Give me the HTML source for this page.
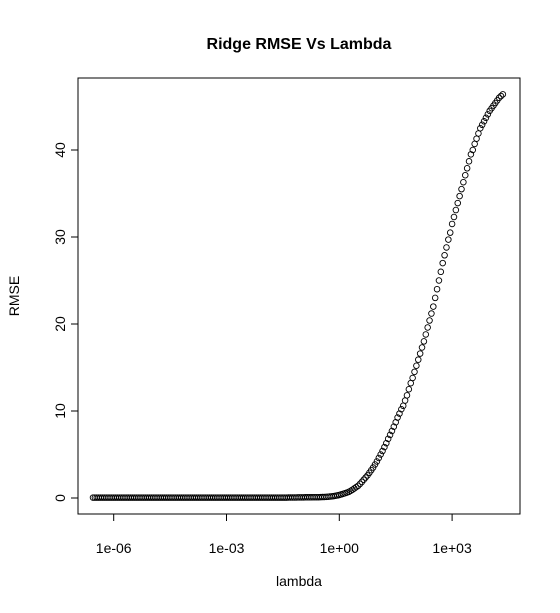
<!DOCTYPE html>
<html><head><meta charset="utf-8"><style>
body{margin:0;background:#fff}
svg{display:block;font-family:"Liberation Sans",Arial,sans-serif}
</style></head><body>
<svg id="chart" width="560" height="613">
<text x="299" y="49" text-anchor="middle" font-size="16" font-weight="bold">Ridge RMSE Vs Lambda</text>
<rect x="78" y="78" width="442" height="436" fill="none" stroke="#000" stroke-width="1"/>
<text x="299" y="586" text-anchor="middle" font-size="14">lambda</text>
<text transform="translate(19,296) rotate(-90)" text-anchor="middle" font-size="14">RMSE</text>
<g id="axes"></g><g id="points"></g>
</svg>
<script>
const logLambdaStart = -6.55;
const logLambdaStep = 0.05;
const rmseValues = [
0.05,0.05,0.05,0.05,0.05,0.05,0.05,0.05,0.05,0.05,0.05,0.05,0.05,0.05,0.05,0.05,0.05,0.05,0.05,0.05,
0.05,0.05,0.05,0.05,0.05,0.05,0.05,0.05,0.05,0.05,0.05,0.05,0.05,0.05,0.05,0.05,0.05,0.05,0.05,0.05,
0.05,0.05,0.05,0.05,0.05,0.05,0.05,0.05,0.05,0.05,0.05,0.05,0.05,0.05,0.05,0.05,0.05,0.05,0.05,0.05,
0.05,0.05,0.05,0.05,0.05,0.05,0.05,0.05,0.05,0.05,0.05,0.05,0.05,0.05,0.05,0.05,0.05,0.05,0.05,0.05,
0.05,0.05,0.05,0.05,0.05,0.05,0.05,0.05,0.05,0.05,0.05,0.05,0.05,0.05,0.05,0.05,0.05,0.05,0.05,0.05,
0.05,0.05,0.05,0.05,0.06,0.06,0.06,0.06,0.06,0.07,0.07,0.07,0.07,0.08,0.08,0.08,0.08,0.09,0.09,0.09,0.09,
0.10,0.11,0.12,0.13,0.15,0.17,0.19,0.22,0.26,0.30,0.35,0.41,0.48,0.55,0.62,0.70,0.82,0.95,1.1,1.25,
1.4,1.62,1.85,2.1,2.35,2.6,2.9,3.2,3.5,3.85,4.2,4.6,5.0,5.4,5.85,6.3,6.8,7.25,7.7,8.2,
8.7,9.25,9.7,10.2,10.6,11.2,11.8,12.5,13.2,13.8,14.5,15.2,15.9,16.6,17.3,18.0,18.8,19.6,20.4,21.2,
22.0,23.0,24.0,25.0,26.0,27.0,27.9,28.8,29.7,30.5,31.5,32.3,33.1,33.9,34.7,35.5,36.3,37.1,37.9,38.7,
39.5,40.0,40.7,41.3,41.9,42.5,42.9,43.3,43.7,44.1,44.5,44.8,45.1,45.4,45.7,46.0,46.2,46.4
];
const xTickLogs = [-6, -3, 0, 3];
const xTickLabels = ["1e-06", "1e-03", "1e+00", "1e+03"];
const yTicks = [0, 10, 20, 30, 40];

const NS = "http://www.w3.org/2000/svg";
function xScale(logv){ return 339.3 + logv * 37.6; }
function yScale(v){ return 498 - v * 8.7; }
function mk(tag, attrs, parent){
  const e = document.createElementNS(NS, tag);
  for (const k in attrs) e.setAttribute(k, attrs[k]);
  parent.appendChild(e); return e;
}
const axes = document.getElementById('axes');
const pts = document.getElementById('points');

const xl = mk('line', {x1:xScale(xTickLogs[0]), x2:xScale(xTickLogs[xTickLogs.length-1]), y1:514, y2:514, stroke:'#000'}, axes);


xTickLogs.forEach((t, i) => {
  const tk = mk('line', {x1:xScale(t), x2:xScale(t), y1:514, y2:521, stroke:'#000'}, axes);
  
  
  const tx = mk('text', {x:xScale(t), y:553, 'text-anchor':'middle', 'font-size':14}, axes);
  tx.textContent = xTickLabels[i];
  
  
});
const yl = mk('line', {x1:78, x2:78, y1:yScale(yTicks[0]), y2:yScale(yTicks[yTicks.length-1]), stroke:'#000'}, axes);


yTicks.forEach(t => {
  const tk = mk('line', {x1:71, x2:78, y1:yScale(t), y2:yScale(t), stroke:'#000'}, axes);
  
  
  const tx = mk('text', {transform:'translate(65,' + yScale(t) + ') rotate(-90)', 'text-anchor':'middle', 'font-size':14}, axes);
  tx.textContent = String(t);
  
  
});
rmseValues.forEach((v, i) => {
  const c = mk('circle', {cx:xScale(logLambdaStart + i * logLambdaStep), cy:yScale(v), r:2.8, fill:'none', stroke:'#000', 'stroke-width':0.9}, pts);
  
  
});
</script>
</body></html>
